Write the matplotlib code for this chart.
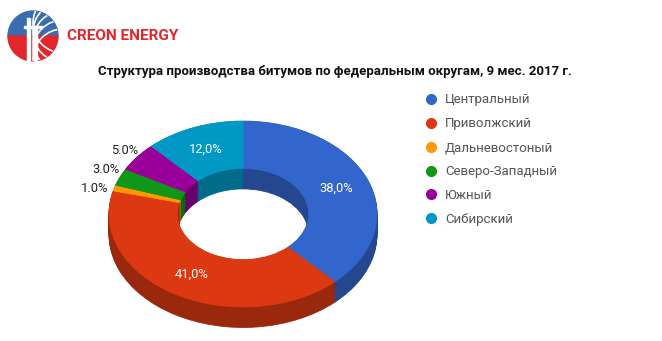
import numpy as np
import matplotlib
matplotlib.use("Agg")
import matplotlib.pyplot as plt
from matplotlib.lines import Line2D
from matplotlib.patches import Circle, Wedge, Rectangle
import matplotlib.colors as mcolors

plt.rcParams['font.family'] = ['Roboto', 'DejaVu Sans']

title = "Структура производства битумов по федеральным округам, 9 мес. 2017 г."
regions = ["Центральный", "Приволжский", "Дальневостоный",
           "Северо-Западный", "Южный", "Сибирский"]
shares = [38.0, 41.0, 1.0, 3.0, 5.0, 12.0]
colors = ["#3366cc", "#dc3912", "#ff9900", "#109618", "#990099", "#0099c6"]
# labels inside the ring use a comma, the small ones outside use a dot
inside = [True, True, False, False, False, True]

W, H = 662, 341
fig = plt.figure(figsize=(W / 100, H / 100), dpi=100)

# pie axes covers the whole figure; 1 unit = 134 px in x, 93 px in y
cx, cy, rx, ry = 243, 214, 134, 93
ax = fig.add_axes([0, 0, 1, 1])

def darker(c, f=0.7):
    r, g, b = mcolors.to_rgb(c)
    return (r * f, g * f, b * f)

side_colors = [darker(c) for c in colors]
ring = 0.51
depth = 0.22

# side walls: stack of darker rings shifted down
for d in np.linspace(depth, 0.005, 22):
    ax.pie(shares, colors=side_colors, startangle=90, counterclock=False,
           center=(0, -d), radius=1.0,
           wedgeprops=dict(width=ring, linewidth=0.6))
    for w in ax.patches[-len(shares):]:
        w.set_edgecolor(w.get_facecolor())

# top surface
wedges, _ = ax.pie(shares, colors=colors, startangle=90, counterclock=False,
                   radius=1.0, wedgeprops=dict(width=ring, linewidth=0.5))
for w in wedges:
    w.set_edgecolor(w.get_facecolor())

# labels
cum = np.cumsum([0] + shares[:-1])
prev_y = -10
for i, (s, c0) in enumerate(zip(shares, cum)):
    mid = np.deg2rad(90 - 3.6 * (c0 + s / 2))
    if inside[i]:
        r = 0.75
        ax.text(r * np.cos(mid), r * np.sin(mid), f"{s:.1f}%".replace(".", ","),
                color="white", fontsize=9.3, ha="center", va="center")
    else:
        ey = np.sin(mid)
        ly = max(ey, prev_y + 0.2)
        prev_y = ly
        lx = -np.sqrt(max(1 - ly ** 2, 0)) - 0.045
        ax.text(lx, ly, f"{s:.1f}%", color="#222222", fontsize=9.3,
                ha="right", va="center")

ax.set_aspect("auto")
ax.set_xlim(-cx / rx, (W - cx) / rx)
ax.set_ylim(-(H - cy) / ry, cy / ry)
ax.axis("off")

# title
fig.text(335 / W, 1 - 72 / H, title, fontsize=9.5, fontweight="bold",
         color="#111111", ha="center", va="center")

# legend
handles = [Line2D([], [], marker="o", linestyle="", markersize=7,
                  markerfacecolor=c, markeredgecolor=c) for c in colors]
leg = fig.legend(handles, regions, loc="upper left",
                 bbox_to_anchor=(418 / W, 1 - 88 / H), frameon=False,
                 fontsize=9.5, labelspacing=0.83, handletextpad=0.45,
                 handlelength=1.2, borderaxespad=0)
for t in leg.get_texts():
    t.set_color("#555555")

# logo
lax = fig.add_axes([0, 1 - 70 / H, 70 / W, 70 / H])
lax.set_xlim(0, 70)
lax.set_ylim(70, 0)
lax.set_aspect("equal")
lax.axis("off")
lax.add_patch(Wedge((33, 36), 25, 180, 360, color="#3a6db0"))
lax.add_patch(Wedge((33, 36), 25, 0, 180, color="#e3262b"))
clip = Circle((33, 36), 25, transform=lax.transData)
for k in range(1, 6):
    lax.add_patch(Circle((63, 14 + k * 9 - 22 + 22), 30, fill=False,
                         edgecolor="white", linewidth=1.2, clip_path=clip))
lax.add_patch(Rectangle((27, 18), 3, 44, color="white"))
lax.add_patch(Rectangle((34, 26), 2.5, 36, color="white"))
lax.add_patch(Rectangle((24, 26), 18, 2, color="white"))

fig.text(67 / W, 1 - 36 / H, "CREON ENERGY", fontsize=11, fontweight="bold",
         color="#e4262b", ha="left", va="center")

fig.savefig("out.png", dpi=100)
